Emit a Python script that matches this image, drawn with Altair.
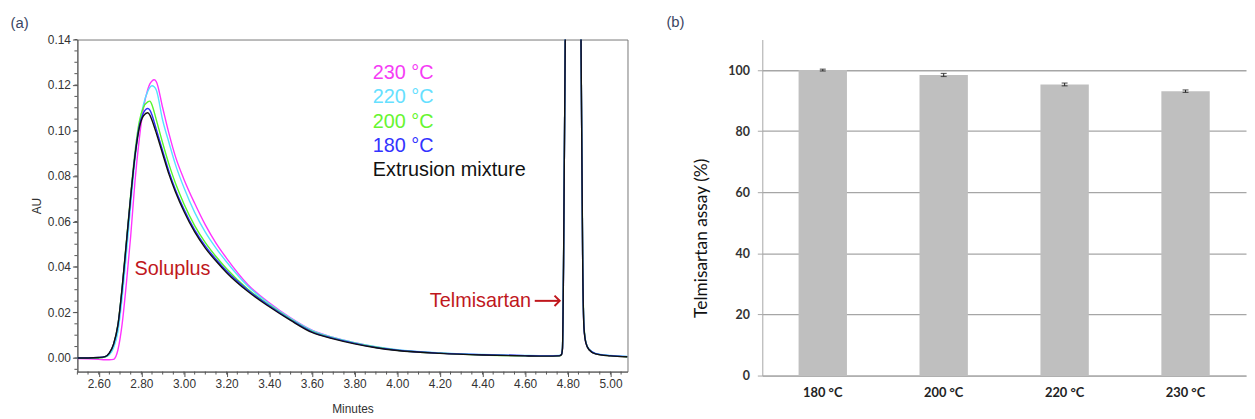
import altair as alt
import pandas as pd

# ---------------- data: chromatograms (a) ----------------
minutes = [2.50, 2.55, 2.60, 2.63, 2.65, 2.67, 2.69, 2.71, 2.73, 2.75, 2.77, 2.79,
           2.81, 2.83, 2.84, 2.85, 2.86, 2.87,
           2.90, 2.93, 2.96, 3.00, 3.05, 3.10, 3.15, 3.20,
           3.30, 3.40, 3.50, 3.60, 3.70, 3.80, 3.90, 4.00,
           4.20, 4.40, 4.60, 4.70, 4.76,
           4.770, 4.775, 4.780, 4.788, 4.800, 4.825, 4.850, 4.862, 4.870, 4.876, 4.885, 4.900, 4.930,
           5.00, 5.08]

au_230 = [-0.0003, -0.0004, -0.0006, -0.0008, -0.0008, -0.0006, 0.0035, 0.0150, 0.0330, 0.0535, 0.0775, 0.0960,
          0.1098, 0.1180, 0.1205, 0.1218, 0.1223, 0.1215,
          0.1100, 0.0985, 0.0885, 0.0785, 0.0680, 0.0585, 0.0505, 0.0438,
          0.0322, 0.0242, 0.0176, 0.0122, 0.0090, 0.0067, 0.0048, 0.0035,
          0.0021, 0.0014, 0.0010, 0.0009, 0.0010,
          0.0015, 0.0040, 0.0400, 0.1400, 0.3500, 0.6000, 0.3500, 0.1400, 0.0400, 0.0130, 0.0065, 0.0036, 0.0018,
          0.0009, 0.0005]

au_220 = [0.0000, 0.0000, 0.0001, 0.0004, 0.0014, 0.0045, 0.0115, 0.0265, 0.0460, 0.0670, 0.0870, 0.1020,
          0.1115, 0.1172, 0.1190, 0.1197, 0.1192, 0.1178,
          0.1045, 0.0945, 0.0850, 0.0748, 0.0640, 0.0553, 0.0483, 0.0422,
          0.0315, 0.0238, 0.0174, 0.0121, 0.0090, 0.0067, 0.0049, 0.0036,
          0.0022, 0.0015, 0.0011, 0.0010, 0.0011,
          0.0016, 0.0042, 0.0400, 0.1400, 0.3500, 0.6000, 0.3500, 0.1400, 0.0400, 0.0132, 0.0067, 0.0038, 0.0020,
          0.0011, 0.0007]

au_200 = [-0.0002, -0.0002, 0.0000, 0.0005, 0.0020, 0.0060, 0.0145, 0.0312, 0.0515, 0.0720, 0.0905, 0.1038,
          0.1102, 0.1126, 0.1129, 0.1112, 0.1082, 0.1048,
          0.0945, 0.0850, 0.0768, 0.0677, 0.0582, 0.0507, 0.0446, 0.0392,
          0.0302, 0.0232, 0.0170, 0.0117, 0.0087, 0.0065, 0.0047, 0.0034,
          0.0021, 0.0013, 0.0009, 0.0008, 0.0009,
          0.0015, 0.0045, 0.0420, 0.1400, 0.3500, 0.6000, 0.3500, 0.1400, 0.0420, 0.0140, 0.0068, 0.0036, 0.0018,
          0.0009, 0.0004]

au_180 = [0.0000, 0.0000, 0.0002, 0.0006, 0.0021, 0.0060, 0.0142, 0.0305, 0.0505, 0.0708, 0.0890, 0.1018,
          0.1078, 0.1097, 0.1090, 0.1068, 0.1038, 0.1006,
          0.0910, 0.0818, 0.0740, 0.0654, 0.0563, 0.0492, 0.0434, 0.0382,
          0.0298, 0.0229, 0.0168, 0.0115, 0.0086, 0.0064, 0.0046, 0.0034,
          0.0021, 0.0014, 0.0010, 0.0009, 0.0010,
          0.0015, 0.0042, 0.0410, 0.1400, 0.3500, 0.6000, 0.3500, 0.1400, 0.0410, 0.0135, 0.0067, 0.0037, 0.0019,
          0.0010, 0.0006]

au_mix = [0.0000, 0.0000, 0.0002, 0.0006, 0.0022, 0.0062, 0.0145, 0.0310, 0.0510, 0.0710, 0.0886, 0.1010,
          0.1065, 0.1078, 0.1068, 0.1045, 0.1018, 0.0989,
          0.0897, 0.0806, 0.0730, 0.0644, 0.0554, 0.0483, 0.0426, 0.0375,
          0.0292, 0.0225, 0.0165, 0.0112, 0.0084, 0.0062, 0.0045, 0.0033,
          0.0020, 0.0013, 0.0009, 0.0008, 0.0009,
          0.0014, 0.0040, 0.0400, 0.1400, 0.3500, 0.6000, 0.3500, 0.1400, 0.0400, 0.0130, 0.0065, 0.0036, 0.0018,
          0.0009, 0.0005]

series_names = ["230 °C", "220 °C", "200 °C", "180 °C", "Extrusion mixture"]
series_values = [au_230, au_220, au_200, au_180, au_mix]
line_colors = ["#ff33ff", "#55e2ff", "#55f52c", "#2c2cff", "#111111"]
label_colors = ["#f53cf5", "#66e0ff", "#66f530", "#3333ff", "#111111"]

annot_text = ["Soluplus", "Telmisartan"]
annot_minutes = [2.768, 4.628]
annot_au = [0.0389, 0.0251]

x_major = [2.60, 2.80, 3.00, 3.20, 3.40, 3.60, 3.80, 4.00, 4.20, 4.40, 4.60, 4.80, 5.00]
x_minor = [round(2.50 + 0.05 * i, 2) for i in range(52)]
y_major = [0.00, 0.02, 0.04, 0.06, 0.08, 0.10, 0.12, 0.14]
y_minor = [round(-0.005 + 0.005 * i, 3) for i in range(30)]

# ---------------- data: assay (b) ----------------
temps = ["180 °C", "200 °C", "220 °C", "230 °C"]
assay = [100.0, 98.4, 95.3, 93.1]
assay_sd = [0.3, 0.5, 0.45, 0.4]
y_b_ticks = [0, 20, 40, 60, 80, 100]

# ---------------- tables ----------------
rows = []
for name, vals in zip(series_names, series_values):
    for t, v in zip(minutes, vals):
        rows.append({"Minutes": t, "AU": v, "Sample": name})
chrom = pd.DataFrame(rows)

annot = pd.DataFrame({"text": annot_text, "Minutes": annot_minutes, "AU": annot_au})
arrow = pd.DataFrame({"x1": [4.645], "x2": [4.762], "AU": [0.0251]})
bars_df = pd.DataFrame({"temp": temps, "assay": assay, "sd": assay_sd})
xminor_df = pd.DataFrame({"Minutes": x_minor})
yminor_df = pd.DataFrame({"AU": y_minor})

FONT_A = "Liberation Sans"
FONT_B = "Lato"
AXIS_GREY = "#555555"
W_A, H_A = 555, 335

label_color_expr = ""
for n, c in zip(series_names, label_colors):
    label_color_expr += f"datum.value === '{n}' ? '{c}' : "
label_color_expr += "'#111111'"

x_scale = alt.Scale(domain=[2.5, 5.08], nice=False, zero=False)
y_scale = alt.Scale(domain=[-0.006, 0.14], nice=False, zero=False)

x_axis = alt.Axis(
    values=x_major, format=".2f", tickSize=5, labelOverlap=False,
    title="Minutes", grid=False, labelFont=FONT_A, labelFontSize=12, labelColor="#333333",
    titleFont=FONT_A, titleFontSize=12, titleFontWeight="normal", titleColor="#333333",
    titlePadding=14, labelPadding=2, domainColor=AXIS_GREY, tickColor=AXIS_GREY, labelFlush=False,
)
y_axis = alt.Axis(
    values=y_major, format=".2f", tickSize=5, labelOverlap=False,
    title="AU", grid=False, labelFont=FONT_A, labelFontSize=12, labelColor="#333333",
    titleFont=FONT_A, titleFontSize=12, titleFontWeight="normal", titleColor="#333333",
    titlePadding=4, labelPadding=2, domainColor=AXIS_GREY, tickColor=AXIS_GREY, labelFlush=False,
)

lines = alt.Chart(chrom).mark_line(strokeWidth=1.4, clip=True, interpolate="monotone").encode(
    x=alt.X("Minutes:Q", scale=x_scale, axis=x_axis),
    y=alt.Y("AU:Q", scale=y_scale, axis=y_axis),
    color=alt.Color(
        "Sample:N",
        scale=alt.Scale(domain=series_names, range=line_colors),
        legend=alt.Legend(
            title=None, orient="none", legendX=278, legendY=24, symbolOpacity=0, symbolSize=0,
            symbolStrokeWidth=0, labelOffset=0, labelFont=FONT_A, labelFontSize=20,
            labelColor={"expr": label_color_expr}, rowPadding=4.5, padding=0, labelLimit=400,
        ),
    ),
)

# minor tick marks along both axes
xminor = alt.Chart(xminor_df).mark_rule(color=AXIS_GREY, strokeWidth=1).encode(
    x=alt.X("Minutes:Q", scale=x_scale), y=alt.value(H_A), y2=alt.value(H_A + 3)
)
yminor = alt.Chart(yminor_df).mark_rule(color=AXIS_GREY, strokeWidth=1).encode(
    y=alt.Y("AU:Q", scale=y_scale), x=alt.value(0), x2=alt.value(-3)
)

soluplus = alt.Chart(annot.iloc[[0]]).mark_text(
    align="left", baseline="middle", font=FONT_A, fontSize=20, color="#c0171c"
).encode(x=alt.X("Minutes:Q", scale=x_scale), y=alt.Y("AU:Q", scale=y_scale), text="text:N")

telmi = alt.Chart(annot.iloc[[1]]).mark_text(
    align="right", baseline="middle", font=FONT_A, fontSize=20, color="#c0171c"
).encode(x=alt.X("Minutes:Q", scale=x_scale), y=alt.Y("AU:Q", scale=y_scale), text="text:N")

arrow_line = alt.Chart(arrow).mark_rule(color="#c0171c", strokeWidth=2).encode(
    x=alt.X("x1:Q", scale=x_scale), x2="x2:Q", y=alt.Y("AU:Q", scale=y_scale)
)
arrow_head = alt.Chart(arrow).mark_point(
    shape="M-1,-1L0,0L-1,1", filled=False, size=110, strokeWidth=2, color="#c0171c", opacity=1
).encode(x=alt.X("x2:Q", scale=x_scale), y=alt.Y("AU:Q", scale=y_scale))

left = alt.layer(lines, xminor, yminor, soluplus, telmi, arrow_line, arrow_head).properties(
    width=W_A, height=H_A,
    title=alt.TitleParams("(a)", anchor="start", font=FONT_A, fontSize=15, fontWeight="normal",
                          color="#3b4663", dx=-20, offset=3),
    view=alt.ViewBackground(stroke="#777777", strokeWidth=1),
)

# ---------------- (b) bars ----------------
GRID = "#a6a6a6"
xb = alt.X("temp:N", sort=temps, scale=alt.Scale(paddingInner=0.6, paddingOuter=0.3),
           axis=alt.Axis(title=None, labelAngle=0, ticks=False, domainColor=GRID, labelFont=FONT_B,
                         labelFontWeight="bold", labelFontSize=13, labelColor="#222222", labelPadding=11))
yb_scale = alt.Scale(domain=[0, 110], nice=False)

bars = alt.Chart(bars_df).mark_bar(color="#bfbfbf").encode(
    x=xb,
    y=alt.Y("assay:Q", scale=yb_scale,
            axis=alt.Axis(values=y_b_ticks, format="d", title="Telmisartan assay (%)",
                          titleFont=FONT_B, titleFontSize=17.5, titleFontWeight="normal", titleColor="#111111",
                          titlePadding=18, titleY=200, titleAlign="center",
                          labelFont=FONT_B, labelFontWeight="bold", labelFontSize=12.5,
                          labelColor="#333333", labelPadding=8, tickSize=5, tickColor=GRID,
                          domainColor=GRID, gridColor=GRID, gridWidth=1.3)),
)
err = alt.Chart(bars_df).transform_calculate(
    lo="datum.assay - datum.sd", hi="datum.assay + datum.sd"
)
err_rule = err.mark_rule(color="#222222", strokeWidth=1).encode(
    x=alt.X("temp:N", sort=temps), y=alt.Y("lo:Q", scale=yb_scale), y2="hi:Q"
)
cap_lo = err.mark_tick(color="#222222", size=6, thickness=1.2).encode(
    x=alt.X("temp:N", sort=temps), y=alt.Y("lo:Q", scale=yb_scale)
)
cap_hi = err.mark_tick(color="#222222", size=6, thickness=1.2).encode(
    x=alt.X("temp:N", sort=temps), y=alt.Y("hi:Q", scale=yb_scale)
)

right = alt.layer(bars, err_rule, cap_lo, cap_hi).properties(
    width=488, height=339,
    title=alt.TitleParams("(b)", anchor="start", font=FONT_A, fontSize=15, fontWeight="normal",
                          color="#3b4663", dx=-26, offset=10),
    view=alt.ViewBackground(stroke="transparent"),
)

chart = alt.hconcat(left, right, spacing=37).configure(
    padding={"left": 2, "top": 4, "right": 0, "bottom": 0},
    background="white",
)

chart.save("out.html", embed_options={"renderer": "svg", "actions": False})
